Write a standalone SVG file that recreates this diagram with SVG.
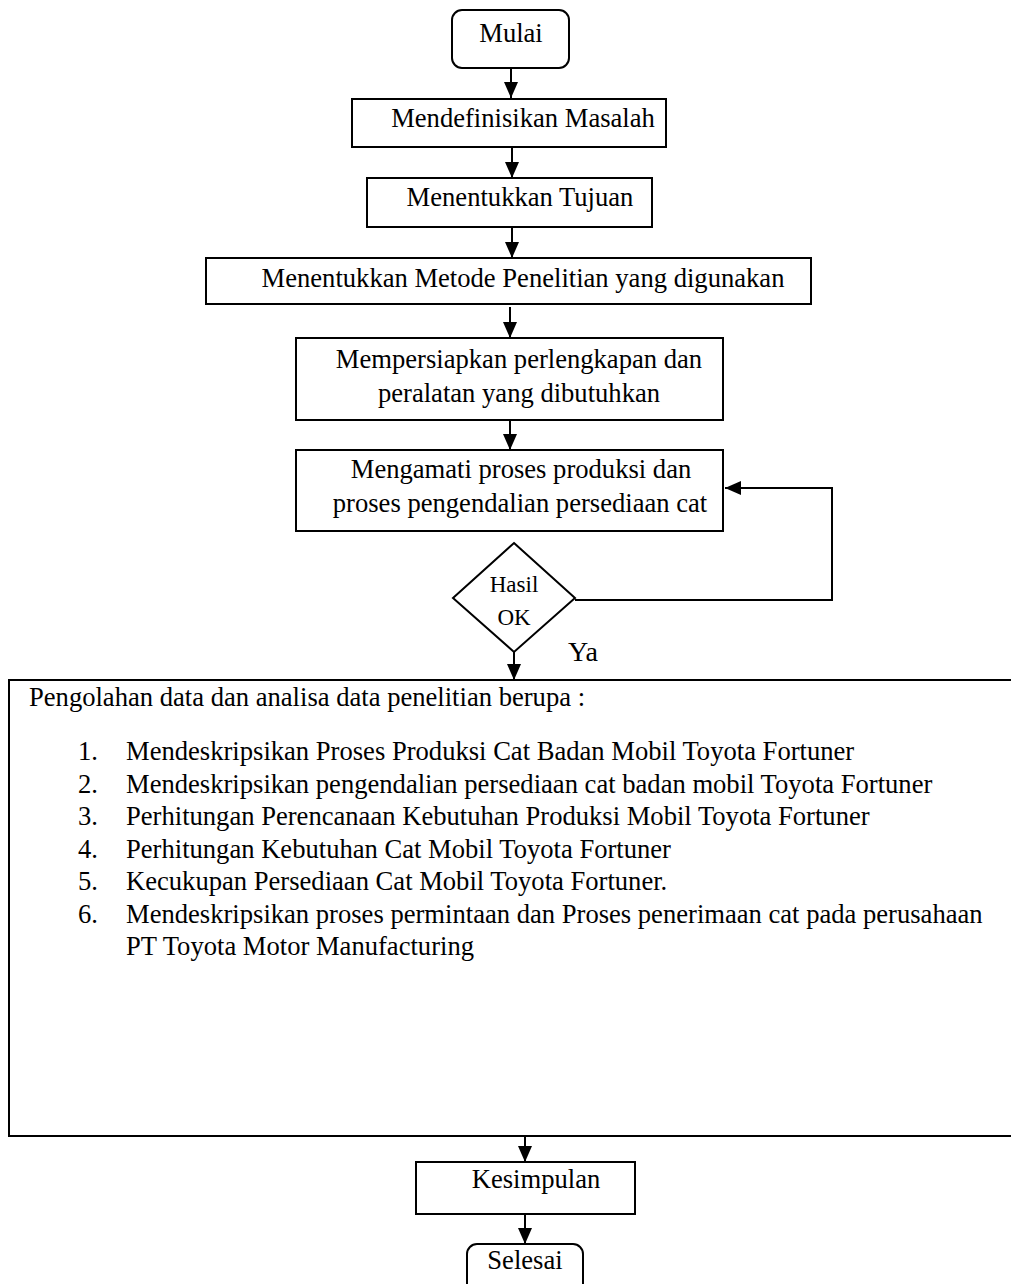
<svg xmlns="http://www.w3.org/2000/svg" width="1011" height="1284" viewBox="0 0 1011 1284">
<style>
.box{fill:#fff;stroke:#000;stroke-width:2}
.t{font-family:"Liberation Serif","Times New Roman",serif;font-size:26.6px;fill:#000}
.c{text-anchor:middle}
.ln{fill:none;stroke:#000;stroke-width:2}
</style>
<defs>
<marker id="ah" markerUnits="userSpaceOnUse" markerWidth="16" markerHeight="16" viewBox="0 0 16 16" refX="16" refY="8" orient="auto">
<path d="M0,1 L16,8 L0,15 Z" fill="#000"/>
</marker>
</defs>
<rect width="1011" height="1284" fill="#fff"/>
<g id="connectors">
<line class="ln" x1="511" y1="68" x2="511" y2="98" marker-end="url(#ah)"/>
<line class="ln" x1="512" y1="147" x2="512" y2="178" marker-end="url(#ah)"/>
<line class="ln" x1="512" y1="227" x2="512" y2="258" marker-end="url(#ah)"/>
<line class="ln" x1="510" y1="307" x2="510" y2="338" marker-end="url(#ah)"/>
<line class="ln" x1="510" y1="420" x2="510" y2="450" marker-end="url(#ah)"/>
<line class="ln" x1="514" y1="652" x2="514" y2="680" marker-end="url(#ah)"/>
<polyline class="ln" points="575,600 832,600 832,488 725,488" marker-end="url(#ah)"/>
<line class="ln" x1="525" y1="1128" x2="525" y2="1162" marker-end="url(#ah)"/>
<line class="ln" x1="525" y1="1214" x2="525" y2="1244" marker-end="url(#ah)"/>
</g>
<g id="mulai">
<rect class="box" x="452" y="10" width="117" height="58" rx="10"/>
<text class="t c" x="511" y="42">Mulai</text>
</g>
<g id="mendefinisikan">
<rect class="box" x="352" y="99" width="314" height="48"/>
<text class="t c" x="523" y="127">Mendefinisikan Masalah</text>
</g>
<g id="tujuan">
<rect class="box" x="367" y="178" width="285" height="49"/>
<text class="t c" x="520" y="206">Menentukkan Tujuan</text>
</g>
<g id="metode">
<rect class="box" x="206" y="258" width="605" height="46"/>
<text class="t c" x="523" y="287">Menentukkan Metode Penelitian yang digunakan</text>
</g>
<g id="mempersiapkan">
<rect class="box" x="296" y="338" width="427" height="82"/>
<text class="t c" x="519" y="368">Mempersiapkan perlengkapan dan</text>
<text class="t c" x="519" y="402">peralatan yang dibutuhkan</text>
</g>
<g id="mengamati">
<rect class="box" x="296" y="450" width="427" height="81"/>
<text class="t c" x="521" y="478">Mengamati proses produksi dan</text>
<text class="t c" x="520" y="512">proses pengendalian persediaan cat</text>
</g>
<g id="hasil">
<polygon class="box" points="514,543 575,598 514,652 453,598"/>
<text class="t c" x="514" y="592" style="font-size:23px">Hasil</text>
<text class="t c" x="514" y="625" style="font-size:23px">OK</text>
</g>
<text class="t" x="568" y="661" style="font-size:28px">Ya</text>
<g id="pengolahan">
<rect class="box" x="9" y="680" width="1010" height="456"/>
<text class="t" x="29" y="706">Pengolahan data dan analisa data penelitian berupa :</text>
<text class="t" x="78" y="760">1.</text>
<text class="t" x="126" y="760">Mendeskripsikan Proses Produksi Cat Badan Mobil Toyota Fortuner</text>
<text class="t" x="78" y="793">2.</text>
<text class="t" x="126" y="793">Mendeskripsikan pengendalian persediaan cat badan mobil Toyota Fortuner</text>
<text class="t" x="78" y="825">3.</text>
<text class="t" x="126" y="825">Perhitungan Perencanaan Kebutuhan Produksi Mobil Toyota Fortuner</text>
<text class="t" x="78" y="858">4.</text>
<text class="t" x="126" y="858">Perhitungan Kebutuhan Cat Mobil Toyota Fortuner</text>
<text class="t" x="78" y="890">5.</text>
<text class="t" x="126" y="890">Kecukupan Persediaan Cat Mobil Toyota Fortuner.</text>
<text class="t" x="78" y="923">6.</text>
<text class="t" x="126" y="923">Mendeskripsikan proses permintaan dan Proses penerimaan cat pada perusahaan</text>
<text class="t" x="126" y="955">PT Toyota Motor Manufacturing</text>
</g>
<g id="kesimpulan">
<rect class="box" x="416" y="1162" width="219" height="52"/>
<text class="t c" x="536" y="1188">Kesimpulan</text>
</g>
<g id="selesai">
<rect class="box" x="467" y="1244" width="116" height="56" rx="10"/>
<text class="t c" x="525" y="1269">Selesai</text>
</g>
</svg>
